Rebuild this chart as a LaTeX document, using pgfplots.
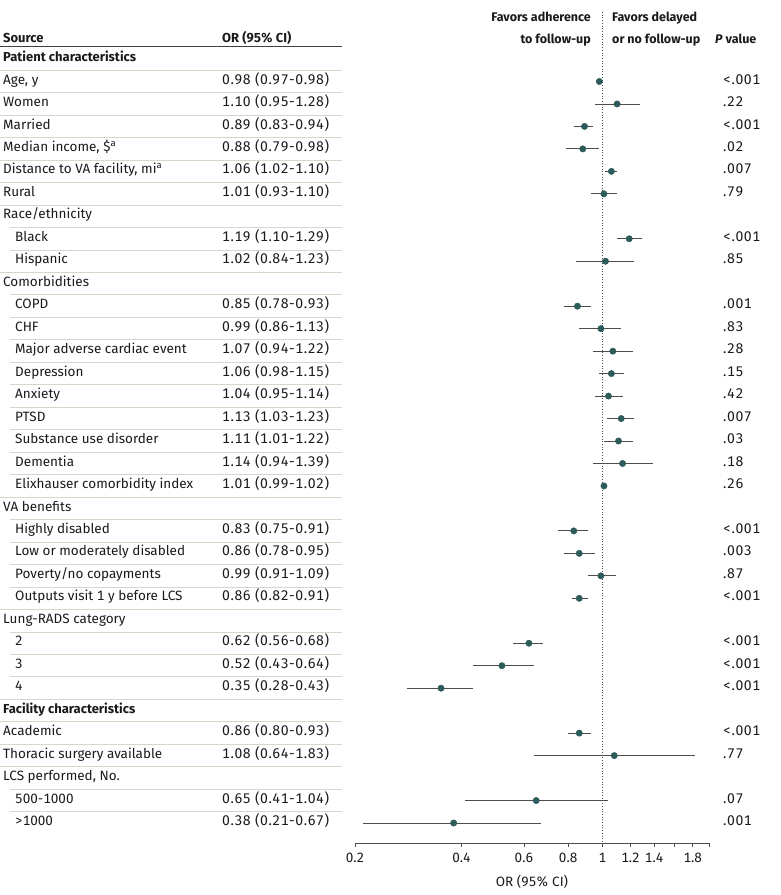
\documentclass[border=0pt]{standalone}
\usepackage{fontspec}
\setmainfont{Fira Sans}[Numbers=Monospaced]
\usepackage{pgfplots}
\pgfplotsset{compat=1.18}
\usepackage{pgfplotstable}
\definecolor{dotc}{HTML}{2C5B5A}
\definecolor{cig}{HTML}{4D4D4D}
\definecolor{sep}{HTML}{D9D5C9}
\definecolor{txt}{HTML}{1A1A1A}

\pgfplotstableread{
r or lo hi
2 0.98 0.97 0.98
3 1.10 0.95 1.28
4 0.89 0.83 0.94
5 0.88 0.79 0.98
6 1.06 1.02 1.10
7 1.01 0.93 1.10
9 1.19 1.10 1.29
10 1.02 0.84 1.23
12 0.85 0.78 0.93
13 0.99 0.86 1.13
14 1.07 0.94 1.22
15 1.06 0.98 1.15
16 1.04 0.95 1.14
17 1.13 1.03 1.23
18 1.11 1.01 1.22
19 1.14 0.94 1.39
20 1.01 0.99 1.02
22 0.83 0.75 0.91
23 0.86 0.78 0.95
24 0.99 0.91 1.09
25 0.86 0.82 0.91
27 0.62 0.56 0.68
28 0.52 0.43 0.64
29 0.35 0.28 0.43
31 0.86 0.80 0.93
32 1.08 0.64 1.83
34 0.65 0.41 1.04
35 0.38 0.21 0.67
}\data

\newcommand\bodyf{\fontsize{13.5}{16}\selectfont}
\newcommand\numf{\fontsize{14}{16}\selectfont\addfontfeatures{LetterSpace=4}}
\newcommand\headf{\fontsize{13}{16}\selectfont\bfseries}
\newcommand\favf{\fontsize{12.5}{15}\selectfont\bfseries}

\begin{document}
\begin{tikzpicture}[font=\bodyf, text=txt, every node/.style={inner sep=0pt}]
\useasboundingbox (0pt,0pt) rectangle (780pt,-895pt);
\begin{axis}[
  at={(355pt,-843pt)}, anchor=south west,
  scale only axis, width=354pt, height=835pt,
  xmode=log, xmin=0.2, xmax=2, ymin=-35.89, ymax=1.27,
  axis x line*=bottom, axis y line=none,
  xtick={0.2,0.4,0.6,0.8,1,1.2,1.4,1.6,1.8,2},
  xticklabels={0.2,0.4,0.6,0.8,1,1.2,1.4,,1.8,},
  minor xtick={},
  tick align=outside, major tick length=4pt,
  x axis line style={color=cig, line width=0.8pt},
  xtick style={color=cig, line width=0.8pt},
  ticklabel style={font=\bodyf, text=txt, inner sep=0pt},
  xticklabel style={yshift=-6pt},
  /pgf/number format/assume math mode=true,
  xlabel={OR (95\% CI)},
  xlabel style={font=\bodyf, text=txt, inner sep=0pt, yshift=-12pt},
  clip=false,
]
\addplot[dotted, color=black!70, line width=0.7pt, forget plot] coordinates {(1,1.09) (1,-35.89)};
\addplot[only marks, mark=*, mark size=3.2pt, color=dotc,
  error bars/.cd, x dir=both, x explicit, error mark=none,
  error bar style={line width=0.9pt, color=cig}]
  table[x=or, y expr=-\thisrow{r},
        x error plus expr=\thisrow{hi}-\thisrow{or},
        x error minus expr=\thisrow{or}-\thisrow{lo}] {\data};
\end{axis}

% header
\node[anchor=mid west, font=\headf] at (3pt,-39.5pt) {Source};
\node[anchor=mid west, font=\headf] at (222pt,-39.5pt) {OR (95\% CI)};
\node[anchor=mid east, font=\favf] at (591pt,-19pt) {Favors adherence};
\node[anchor=mid east, font=\favf] at (591pt,-41pt) {to follow-up};
\node[anchor=mid west, font=\favf] at (612pt,-19pt) {Favors delayed};
\node[anchor=mid west, font=\favf] at (612pt,-41pt) {or no follow-up};
\node[anchor=mid west, font=\favf] at (715pt,-41pt) {\textit{P} value};
\draw[color=black!75, line width=1.8pt] (0pt,-46.5pt) -- (342pt,-46.5pt);

% separators
\foreach \r in {1,...,7,10,20,25,29,30,31,32} {
  \pgfmathsetmacro\yy{-(59+(\r-0.5)*22.47)}
  \draw[color=sep, line width=0.9pt] (0pt,\yy pt) -- (342pt,\yy pt);
}
\foreach \r in {8,9,11,12,13,14,15,16,17,18,19,21,22,23,24,26,27,28,33,34} {
  \pgfmathsetmacro\yy{-(59+(\r-0.5)*22.47)}
  \draw[color=sep, line width=0.9pt] (10pt,\yy pt) -- (342pt,\yy pt);
}

% group headers
\foreach \r/\lab in {1/{\headf Patient characteristics},8/{Race/ethnicity},11/{Comorbidities},21/{VA benefits},26/{Lung-RADS category},30/{\headf Facility characteristics},33/{LCS performed, No.}} {
  \pgfmathsetmacro\yy{-(59+(\r-1)*22.47)}
  \node[anchor=mid west] at (3pt,\yy pt) {\lab};
}

% rows
\foreach \r/\x/\lab/\orci/\pv in {
 2/3/{Age, y}/{0.98 (0.97-0.98)}/{<.001},
 3/3/{Women}/{1.10 (0.95-1.28)}/{.22},
 4/3/{Married}/{0.89 (0.83-0.94)}/{<.001},
 5/3/{Median income, \$\textsuperscript{a}}/{0.88 (0.79-0.98)}/{.02},
 6/3/{Distance to VA facility, mi\textsuperscript{a}}/{1.06 (1.02-1.10)}/{.007},
 7/3/{Rural}/{1.01 (0.93-1.10)}/{.79},
 9/15/{Black}/{1.19 (1.10-1.29)}/{<.001},
 10/15/{Hispanic}/{1.02 (0.84-1.23)}/{.85},
 12/15/{COPD}/{0.85 (0.78-0.93)}/{.001},
 13/15/{CHF}/{0.99 (0.86-1.13)}/{.83},
 14/15/{Major adverse cardiac event}/{1.07 (0.94-1.22)}/{.28},
 15/15/{Depression}/{1.06 (0.98-1.15)}/{.15},
 16/15/{Anxiety}/{1.04 (0.95-1.14)}/{.42},
 17/15/{PTSD}/{1.13 (1.03-1.23)}/{.007},
 18/15/{Substance use disorder}/{1.11 (1.01-1.22)}/{.03},
 19/15/{Dementia}/{1.14 (0.94-1.39)}/{.18},
 20/15/{Elixhauser comorbidity index}/{1.01 (0.99-1.02)}/{.26},
 22/15/{Highly disabled}/{0.83 (0.75-0.91)}/{<.001},
 23/15/{Low or moderately disabled}/{0.86 (0.78-0.95)}/{.003},
 24/15/{Poverty/no copayments}/{0.99 (0.91-1.09)}/{.87},
 25/15/{Outputs visit 1 y before LCS}/{0.86 (0.82-0.91)}/{<.001},
 27/15/{2}/{0.62 (0.56-0.68)}/{<.001},
 28/15/{3}/{0.52 (0.43-0.64)}/{<.001},
 29/15/{4}/{0.35 (0.28-0.43)}/{<.001},
 31/3/{Academic}/{0.86 (0.80-0.93)}/{<.001},
 32/3/{Thoracic surgery available}/{1.08 (0.64-1.83)}/{.77},
 34/15/{500-1000}/{0.65 (0.41-1.04)}/{.07},
 35/15/{>1000}/{0.38 (0.21-0.67)}/{.001}} {
  \pgfmathsetmacro\yy{-(59+(\r-1)*22.47)}
  \node[anchor=mid west] at (\x pt,\yy pt) {\lab};
  \node[anchor=mid west, font=\numf] at (222pt,\yy pt) {\orci};
  \node[anchor=mid west, font=\numf] at (723pt,\yy pt) {\pv};
}
\end{tikzpicture}
\end{document}
